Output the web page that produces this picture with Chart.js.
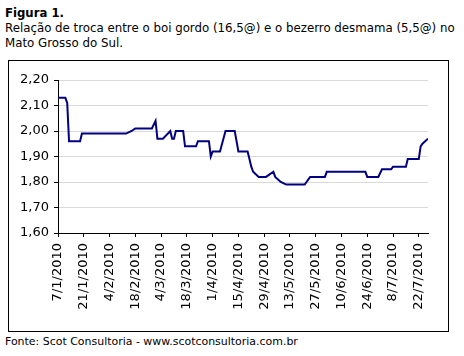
<!DOCTYPE html>
<html><head><meta charset="utf-8">
<script src="https://cdn.jsdelivr.net/npm/chart.js@4"></script>
<style>
html,body{margin:0;padding:0;background:#fff;}
body{width:464px;height:356px;position:relative;overflow:hidden;font-family:"DejaVu Sans",sans-serif;color:#000;}
.t{position:absolute;left:5px;white-space:nowrap;font-size:12px;line-height:15px;}
#t1{top:6px;font-weight:bold;}
#t2{top:21px;}
#t3{top:36px;}
#box{position:absolute;left:8px;top:60px;width:441px;height:272px;border:1px solid #000;box-sizing:border-box;}
#box canvas{display:block;}
#foot{top:334px;font-size:11px;}
</style></head>
<body>
<span class="t" id="t1">Figura 1.</span>
<span class="t" id="t2">Relação de troca entre o boi gordo (16,5@) e o bezerro desmama (5,5@) no</span>
<span class="t" id="t3">Mato Grosso do Sul.</span>
<div id="box"><canvas id="c" width="439" height="270"></canvas></div>
<span class="t" id="foot">Fonte: Scot Consultoria - www.scotconsultoria.com.br</span>
<script>
// Data (date d/m/yyyy, exchange ratio)
const dates = ["7/1/2010","11/1/2010","12/1/2010","13/1/2010","19/1/2010","20/1/2010",
  "13/2/2010","16/2/2010","18/2/2010","27/2/2010","1/3/2010","2/3/2010","5/3/2010",
  "9/3/2010","10/3/2010","11/3/2010","12/3/2010","16/3/2010","17/3/2010","23/3/2010",
  "24/3/2010","30/3/2010","31/3/2010","1/4/2010","5/4/2010","8/4/2010","13/4/2010",
  "15/4/2010","20/4/2010","21/4/2010","22/4/2010","23/4/2010","26/4/2010","30/4/2010",
  "4/5/2010","5/5/2010","8/5/2010","11/5/2010","21/5/2010","22/5/2010","23/5/2010",
  "24/5/2010","1/6/2010","2/6/2010","23/6/2010","24/6/2010","30/6/2010","2/7/2010",
  "7/7/2010","8/7/2010","15/7/2010","16/7/2010","22/7/2010","23/7/2010","24/7/2010","27/7/2010"];
const values = [2.13,2.13,2.11,1.96,1.96,1.99,
  1.99,2.00,2.01,2.01,2.04,1.97,1.97,
  2.00,1.97,1.97,2.00,2.00,1.94,1.94,
  1.96,1.96,1.90,1.92,1.92,2.00,2.00,
  1.92,1.92,1.89,1.86,1.84,1.82,1.82,
  1.84,1.82,1.80,1.79,1.79,1.80,1.81,
  1.82,1.82,1.84,1.84,1.82,1.82,1.85,
  1.85,1.86,1.86,1.89,1.89,1.94,1.95,1.97];
const tickLabels = ["7/1/2010","21/1/2010","4/2/2010","18/2/2010","4/3/2010","18/3/2010",
  "1/4/2010","15/4/2010","29/4/2010","13/5/2010","27/5/2010","10/6/2010","24/6/2010",
  "8/7/2010","22/7/2010"];
const yTicks = [1.60,1.70,1.80,1.90,2.00,2.10,2.20];
const axisEnd = "27/7/2010";

// fit text widths to the reference
function fit(id,w){const e=document.getElementById(id);let s=parseFloat(getComputedStyle(e).fontSize);
  for(let k=0;k<6;k++){const cw=e.getBoundingClientRect().width;s=s*w/cw;e.style.fontSize=s+'px';}}
fit('t1',59);fit('t2',450);fit('t3',118);fit('foot',293);

function dayNum(s){const p=s.split('/').map(Number);return Date.UTC(p[2],p[1]-1,p[0])/86400000;}
const base = dayNum(dates[0]);
const pts = dates.map((d,i)=>({x:dayNum(d)-base,y:values[i]}));
const tickDays = tickLabels.map(d=>dayNum(d)-base);

const F = {family:"'DejaVu Sans', sans-serif", size:13};
new Chart(document.getElementById('c'),{
  type:'line',
  data:{datasets:[{data:pts,borderColor:'#000080',borderWidth:2,pointRadius:0,tension:0,fill:false}]},
  options:{
    responsive:false,animation:false,
    layout:{padding:{left:0,right:20,top:19,bottom:0}},
    plugins:{legend:{display:false},tooltip:{enabled:false}},
    scales:{
      x:{type:'linear',min:0,max:dayNum(axisEnd)-base,
        afterBuildTicks:s=>{s.ticks=tickDays.map(v=>({value:v}));},
        afterFit:s=>{s.height=98;},
        grid:{drawOnChartArea:false,drawTicks:true,tickLength:4,tickColor:'#000',color:'#000'},
        border:{color:'#000',width:1},
        ticks:{autoSkip:false,minRotation:90,maxRotation:90,padding:6,color:'#000',font:F,
          callback:(v,i)=>tickLabels[i]}},
      y:{min:1.6,max:2.2,
        afterBuildTicks:s=>{s.ticks=yTicks.map(v=>({value:v}));},
        afterFit:s=>{s.width=49;},
        grid:{color:'#d9d9d9',tickColor:'#000',tickLength:4,drawTicks:true},
        border:{color:'#000',width:1},
        ticks:{padding:5,color:'#000',font:F,callback:v=>Number(v).toFixed(2).replace('.',',')}}
    }
  }
});
</script>
</body></html>
